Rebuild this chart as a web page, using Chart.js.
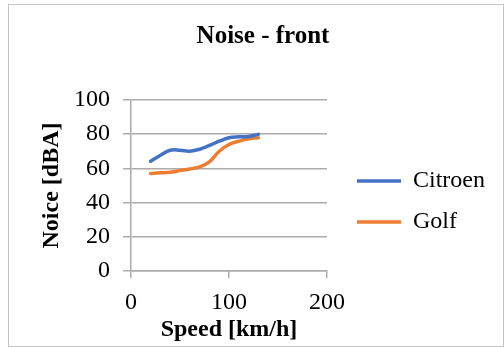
<!DOCTYPE html>
<html lang="en">
<head>
  <meta charset="UTF-8">
  <title>Noise - front</title>
  <script src="https://cdn.jsdelivr.net/npm/chart.js@4.4.0/dist/chart.umd.min.js"></script>
  <style>
    body { margin: 0; background: #fff; }
    #box { position: absolute; left: 8px; top: 4px; width: 494px; height: 341px; border: 1px solid #c6c6c6; }
  </style>
</head>
<body>
  <div id="box"><canvas id="noiseChart"></canvas></div>

  <script>
    // readings taken off the original chart
    const speeds = [20, 30, 40, 50, 60, 70, 80, 90, 100, 110, 120, 130];
    const citroen = [64.2, 67.7, 70.6, 70.6, 70.1, 71.2, 73.4, 75.9, 77.9, 78.5, 78.7, 79.9];
    const golf = [57.0, 57.4, 57.7, 58.7, 59.7, 60.9, 63.8, 70.0, 74.0, 75.9, 77.3, 77.9];
    const seriesNames = ['Citroen', 'Golf'];
    const yTicks = [0, 20, 40, 60, 80, 100];
    const xTicks = [0, 100, 200];

    const serif = "'Times New Roman', 'Liberation Serif', serif";
    const grey = '#acacac';

    const toPoints = ys => speeds.map((s, i) => ({ x: s, y: ys[i] }));

    // reserve a fixed strip for the legend, then nudge legend and title to where Excel put them
    const excelLayout = {
      id: 'excelLayout',
      beforeLayout(chart) {
        const lg = chart.legend;
        if (lg && !lg._fixedFit) {
          const fit = lg.fit.bind(lg);
          lg.fit = function () { fit(); this.width = 176; };
          lg._fixedFit = true;
        }
      },
      afterLayout(chart) {
        const lg = chart.legend;
        lg.left += 13; lg.right += 13;
        lg.top += 26; lg.bottom += 26;
        const t = chart.titleBlock;
        t.left += 7; t.right += 7;
      }
    };

    new Chart(document.getElementById('noiseChart'), {
      type: 'scatter',
      data: {
        datasets: [
          { label: seriesNames[0], data: toPoints(citroen), borderColor: '#4472c4', backgroundColor: '#4472c4', borderWidth: 3.5 },
          { label: seriesNames[1], data: toPoints(golf), borderColor: '#ed7d31', backgroundColor: '#ed7d31', borderWidth: 3.5 }
        ]
      },
      options: {
        responsive: true,
        maintainAspectRatio: false,
        animation: false,
        showLine: true,
        layout: { padding: 0 },
        elements: {
          line: { borderWidth: 3.5, tension: 0.4, borderCapStyle: 'round' },
          point: { radius: 0, hoverRadius: 0 }
        },
        plugins: {
          title: {
            display: true,
            text: 'Noise - front',
            color: '#000',
            font: { family: serif, size: 25, weight: 'bold' },
            padding: { top: 17, bottom: 48 }
          },
          legend: {
            position: 'right',
            labels: {
              color: '#000',
              font: { family: serif, size: 24 },
              usePointStyle: true,
              pointStyle: 'line',
              pointStyleWidth: 44,
              boxWidth: 44,
              padding: 17
            }
          },
          tooltip: { enabled: false }
        },
        scales: {
          x: {
            type: 'linear',
            min: 0, max: 200,
            afterBuildTicks: s => { s.ticks = xTicks.map(v => ({ value: v })); },
            afterFit: s => { s.height = 75; },
            grid: { drawOnChartArea: false, color: grey, lineWidth: 1.5, tickLength: 7 },
            border: { color: grey, width: 1.5 },
            ticks: { color: '#000', font: { family: serif, size: 24 }, padding: 10, maxRotation: 0 },
            title: {
              display: true, text: 'Speed [km/h]', color: '#000',
              font: { family: serif, size: 24, weight: 'bold' },
              padding: { top: 0, bottom: 2 }
            }
          },
          y: {
            min: 0, max: 100,
            afterBuildTicks: s => { s.ticks = yTicks.map(v => ({ value: v })); },
            afterFit: s => { s.width = 122; },
            grid: { color: grey, lineWidth: 1.5, tickLength: 8 },
            border: { color: grey, width: 1.5 },
            ticks: { color: '#000', font: { family: serif, size: 24 }, padding: 13 },
            title: {
              display: true, text: 'Noice [dBA]', color: '#000',
              font: { family: serif, size: 24, weight: 'bold' },
              padding: { top: 28, bottom: 0 }
            }
          }
        }
      },
      plugins: [excelLayout]
    });
  </script>
</body>
</html>
